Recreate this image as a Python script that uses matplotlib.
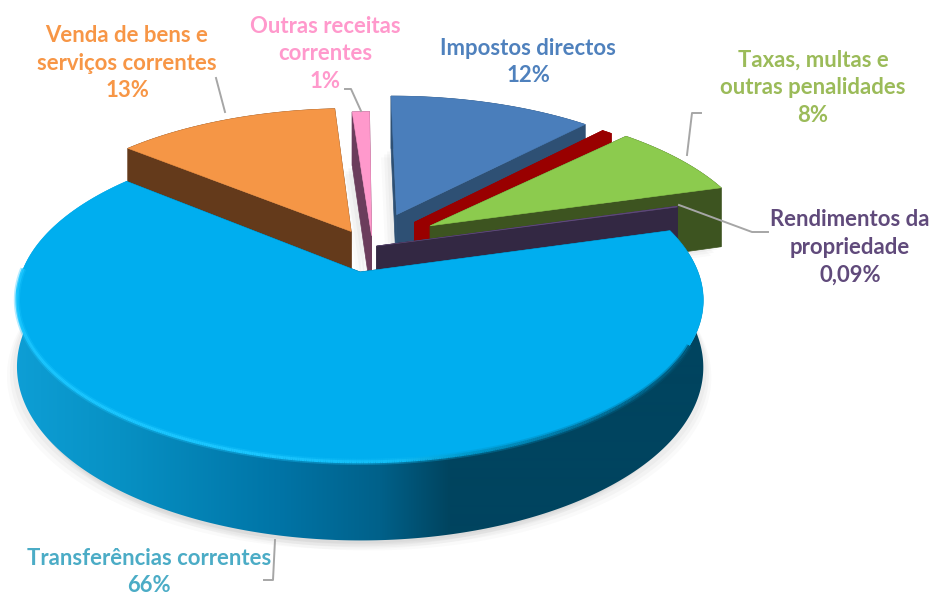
import numpy as np
import matplotlib
matplotlib.use("Agg")
import matplotlib.pyplot as plt
from matplotlib.collections import LineCollection
from matplotlib.colors import to_rgb

# ---- data -------------------------------------------------------------
categories = ["Impostos directos", "", "Taxas, multas e\noutras penalidades",
              "Rendimentos da\npropriedade", "Transferências correntes",
              "Venda de bens e\nserviços correntes", "Outras receitas\ncorrentes"]
values = [12, 0.6, 8, 0.09, 66, 13, 1]
value_labels = ["12%", "", "8%", "0,09%", "66%", "13%", "1%"]

# ---- style ------------------------------------------------------------
top_colors = ["#4A7EBB", "#990000", "#8CCB4E", "#5F4A7B", "#00AEEF", "#F59646", "#FF99CC"]
wall_colors = ["#2E5074", "#990000", "#3D5420", "#332843", None, "#643A1B", "#6B3D5C"]
text_colors = ["#4F81BD", None, "#9BBB59", "#604A7B", "#4BACC6", "#F79646", "#FF99CC"]
label_pos = [(528, 62), None, (813, 88), (850, 247), (149, 572), (127, 63), (325, 54)]
leaders = [None, None,
           [(701, 113), (692, 113), (687, 155)],
           [(679, 205), (752, 232), (768, 232)],
           [(275, 540), (273, 580), (264, 580)],
           [(216, 78), (225, 112)],
           [(345, 89), (351, 89), (361, 111)]]
draw_order = [6, 0, 5, 1, 2, 3, 4]
# how far each slice is pulled out of the pie, in units of the pie radius
pull_out = [(.125, -.39), (.18, -.335), (.228, -.31), (.06, -.17),
            (.009, 0), (-.018, -.27), (.045, -.24)]

CX, CY = 357, 272      # apex of the largest slice on screen
A, B, P = 338, 157, 0.173
H = 65

plt.rcParams["font.family"] = ["Lato", "DejaVu Sans"]
fig = plt.figure(figsize=(9.33, 5.97), dpi=100, facecolor="white")
ax = fig.add_axes([0, 0, 1, 1])
ax.set_xlim(0, 933)
ax.set_ylim(597, 0)
ax.axis("off")


def project(X, Y, down=0.0):
    w = 1 - P * np.asarray(Y)
    return np.column_stack([CX + A * np.asarray(X) / w,
                            CY + B * np.asarray(Y) / w + down / w])


fractions = np.array(values) / sum(values) * 2 * np.pi
ends = np.cumsum(fractions)
starts = ends - fractions


def lerp_color(x, stops):
    xs = [s[0] for s in stops]
    rgb = np.array([to_rgb(s[1]) for s in stops])
    return np.column_stack([np.interp(x, xs, rgb[:, i]) for i in range(3)])


wall_stops = [(10, "#0E9FD6"), (120, "#0791C4"), (280, "#0074A6"),
              (380, "#00618A"), (450, "#00445F"), (700, "#00445F")]
rim_stops = [(10, "#1AC6FF"), (250, "#1AC6FF"), (400, "#12BDF6"), (470, "#0099CC"),
             (560, "#0079A6"), (700, "#00506F")]

# soft shadow on the background under every slice
for i in range(len(values)):
    n = max(int(np.degrees(fractions[i]) * 3), 4)
    th = np.linspace(starts[i], ends[i], n)
    ox, oy = pull_out[i]
    floor = np.vstack([project([ox], [oy], H), project(np.sin(th) + ox, -np.cos(th) + oy, H)])
    for grow, alpha in [((-10, 9), .04), ((-7, 6), .05), ((-4, 3), .06)]:
        ax.add_patch(plt.Polygon(floor + np.array(grow), closed=True, fc="#808080", ec="none",
                                 alpha=alpha, zorder=1))
    if i == int(np.argmax(values)):
        for g, alpha in [(10, .04), (7, .05), (4, .06)]:
            ax.add_patch(plt.Polygon(floor + np.array([g * .8, g]), closed=True, fc="#808080",
                                     ec="none", alpha=alpha, zorder=1))

z = 2
for i in draw_order:
    n = max(int(np.degrees(fractions[i]) * 3), 4)
    th = np.linspace(starts[i], ends[i], n)
    ox, oy = pull_out[i]
    X = np.sin(th) + ox
    Y = -np.cos(th) + oy
    top = project(X, Y)
    low = project(X, Y, H)
    apex_t = project([ox], [oy])
    apex_l = project([ox], [oy], H)
    c = wall_colors[i] if wall_colors[i] else "#00445F"
    # radial faces
    for k in (0, -1):
        face = np.vstack([apex_t, top[[k]], low[[k]], apex_l])
        ax.add_patch(plt.Polygon(face, closed=True, fc=c, ec=c, lw=.5, zorder=z))
    # outer wall
    wall = np.vstack([top, low[::-1]])
    if wall_colors[i]:
        ax.add_patch(plt.Polygon(wall, closed=True, fc=c, ec=c, lw=.5, zorder=z))
    else:
        xs = np.arange(933) + .5
        grad = lerp_color(xs, wall_stops)[None, :, :]
        img = ax.imshow(grad, extent=(0, 933, 597, 0), aspect="auto", zorder=z, interpolation="bilinear")
        clip = plt.Polygon(wall, closed=True, transform=ax.transData, fc="none", ec="none")
        ax.add_patch(clip)
        img.set_clip_path(clip)
    # top surface
    ax.add_patch(plt.Polygon(np.vstack([apex_t, top]), closed=True, fc=top_colors[i],
                             ec=top_colors[i], lw=.4, zorder=z + .5))
    if not wall_colors[i]:
        segs = np.stack([top[:-1], top[1:]], axis=1)
        front = (Y[:-1] > -0.02) & (top[:-1, 0] < 690)
        cols = lerp_color(top[:-1, 0], rim_stops)[front]
        ax.add_collection(LineCollection(segs[front], colors=cols, linewidths=4.5, alpha=.35, zorder=z + .6))
        ax.add_collection(LineCollection(segs[front], colors=cols, linewidths=2.2, zorder=z + .7))
    z += 1
ax.set_xlim(0, 933)
ax.set_ylim(597, 0)

for i, cat in enumerate(categories):
    if label_pos[i] is None:
        continue
    ax.text(*label_pos[i], cat + "\n" + value_labels[i], ha="center", va="center",
            color=text_colors[i], fontsize=15.9, fontweight="bold", linespacing=1.4, zorder=30)
    if leaders[i]:
        pts = np.array(leaders[i])
        ax.plot(pts[:, 0], pts[:, 1], color="#A6A6A6", lw=1.4, zorder=29)

fig.savefig("out.png", dpi=100, facecolor="white")
